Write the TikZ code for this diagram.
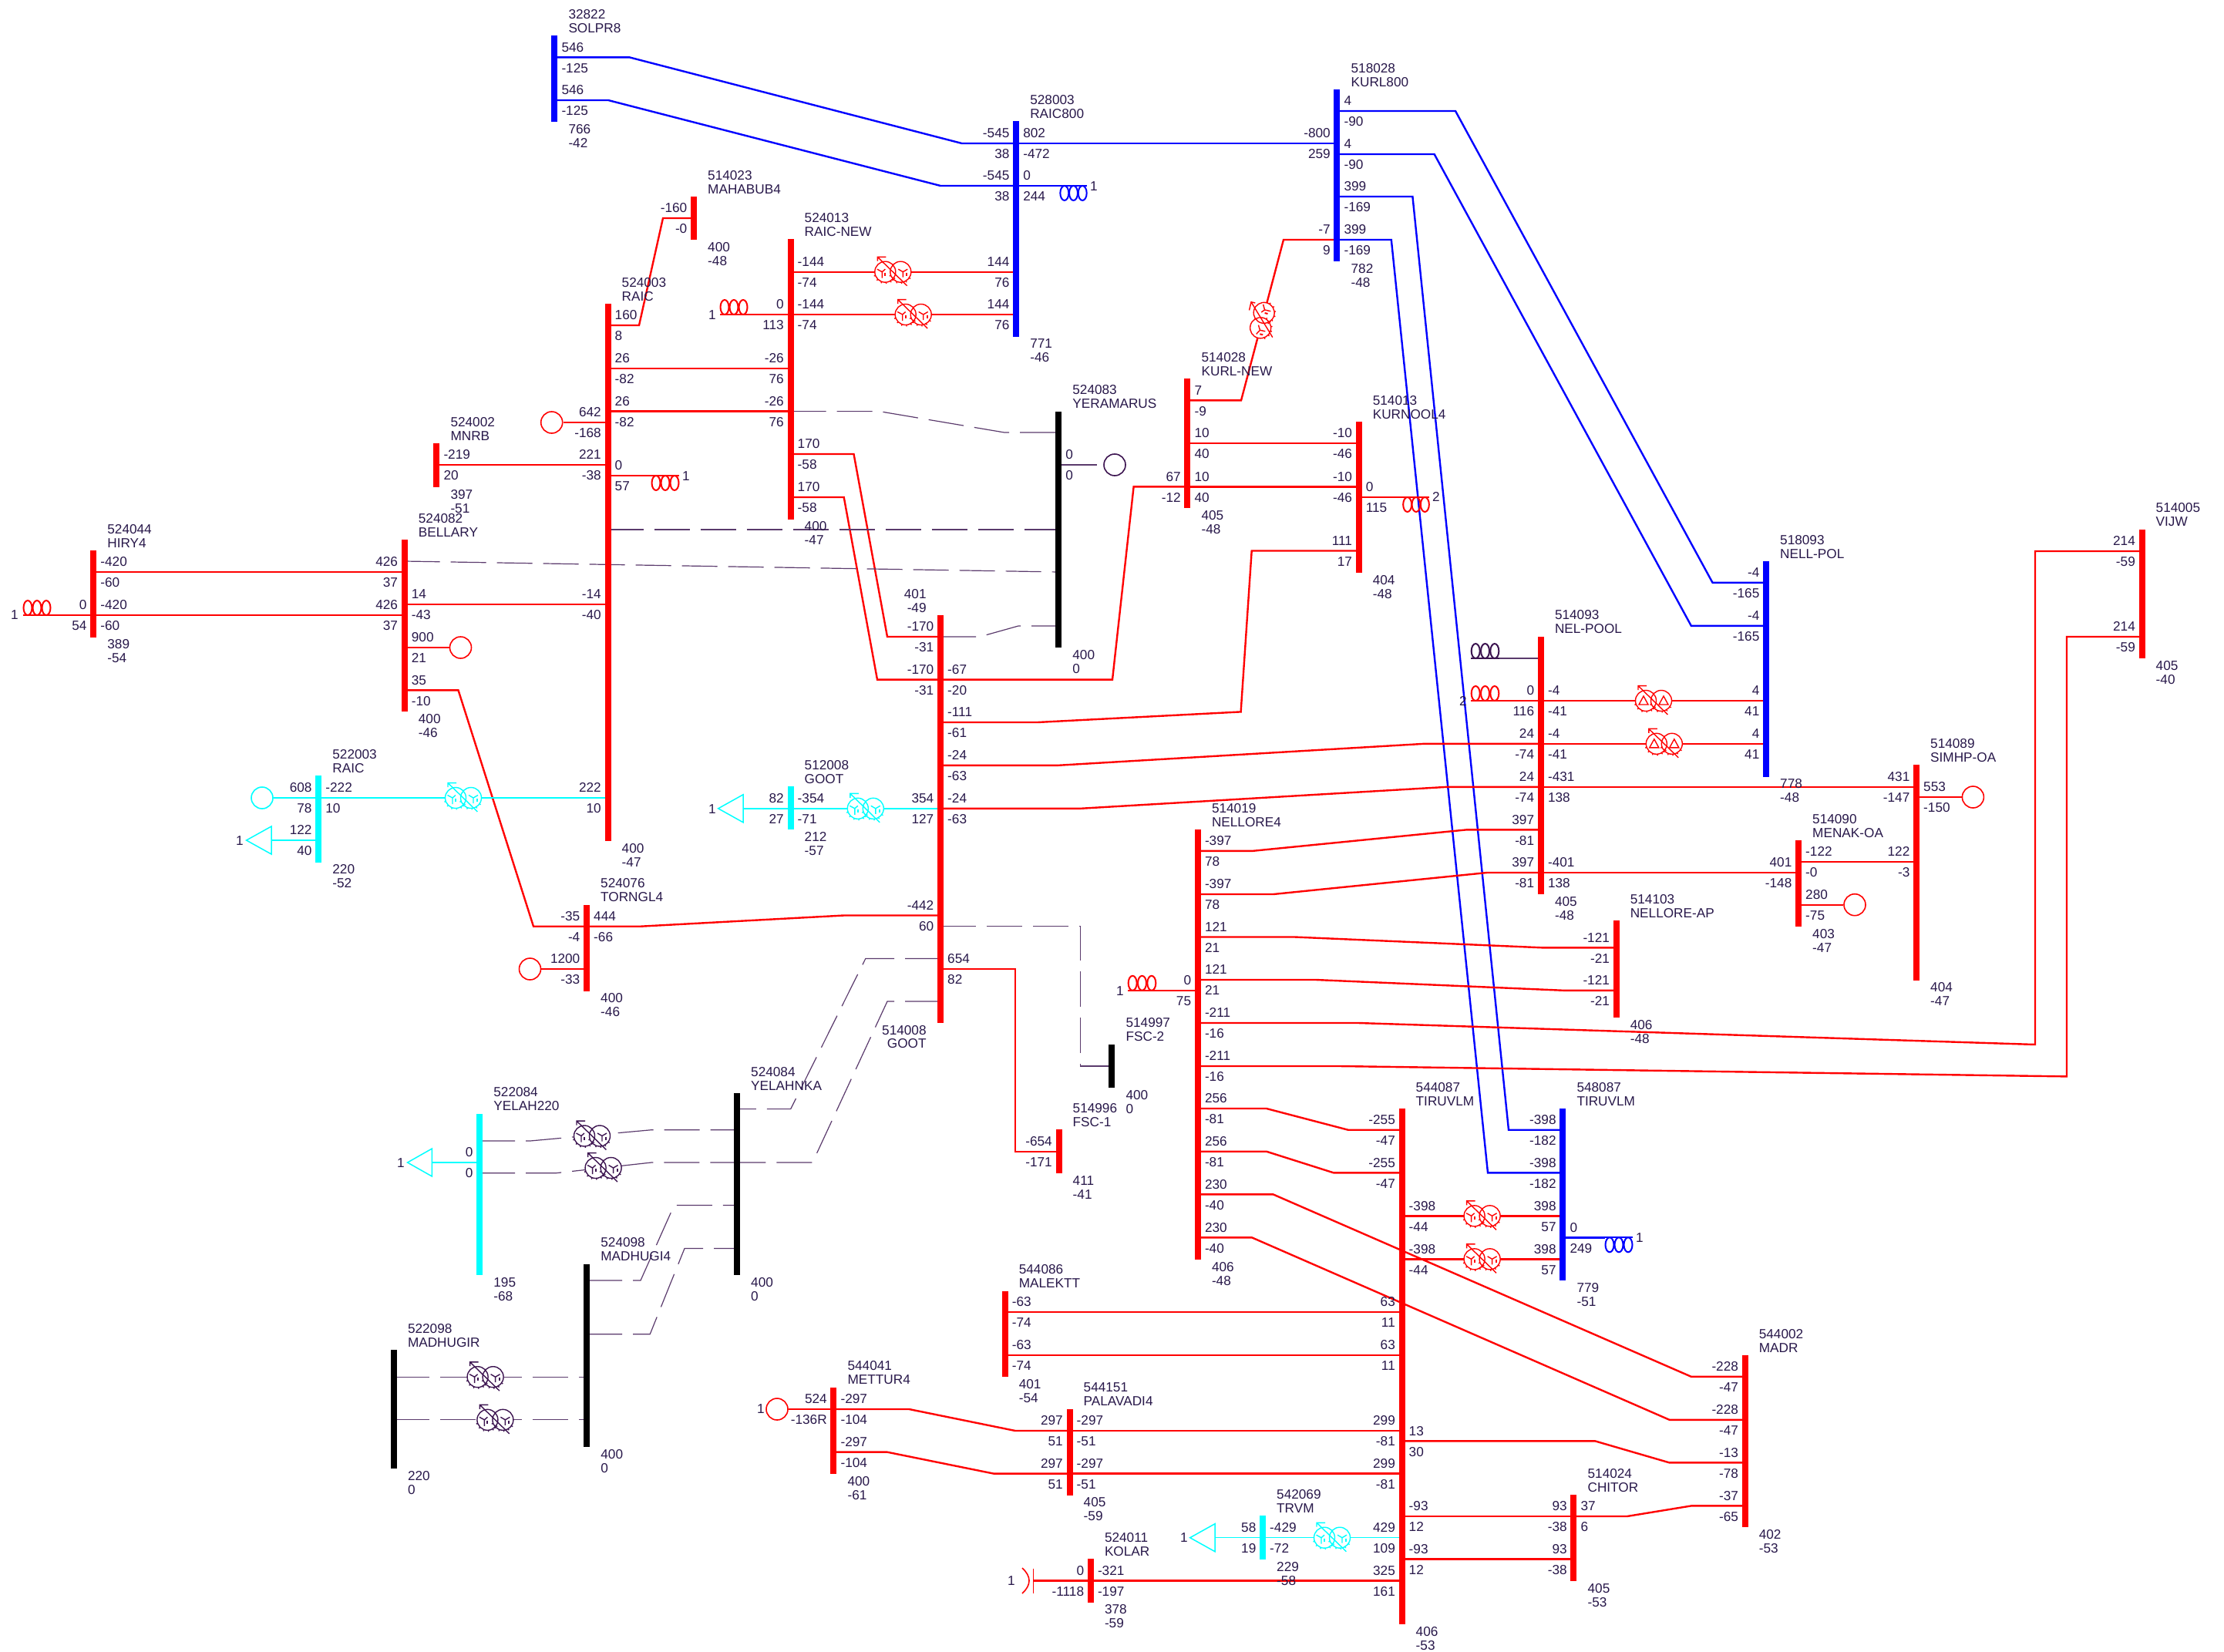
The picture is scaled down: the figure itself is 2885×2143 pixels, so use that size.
\documentclass[tikz,border=0pt]{standalone}
\usepackage{fontspec}
\setmainfont{Liberation Sans}
\definecolor{txt}{HTML}{28184A}
\definecolor{pur}{HTML}{5A3A6C}
\definecolor{purd}{HTML}{3C1450}
\definecolor{cy}{HTML}{00FFFF}
\pgfdeclarelayer{bg}
\pgfsetlayers{bg,main}
\newcounter{tc}
\tikzset{
 lbl/.style={font=\fontsize{17.2pt}{18pt}\selectfont,text=txt,inner sep=0pt,text height=12.4pt,text depth=0pt},
 rl/.style={draw=red,line width=2.4pt,line join=miter},
 bl/.style={draw=blue,line width=2.4pt,line join=miter},
 cl/.style={draw=cy,line width=1.5pt},
 pl/.style={draw=pur,line width=1.2pt,dash pattern=on 46pt off 14pt},
 ps/.style={draw=pur,line width=1.2pt},
 gennode/.style={circle,draw=#1,fill=white,line width=1.6pt,minimum size=28pt,inner sep=0pt},
 busnode/.style={rectangle,fill=#1,draw=none,inner sep=0pt,minimum width=8pt}
}
\newcommand{\tw}[3]{\stepcounter{tc}\node[lbl,anchor=west] (t\arabic{tc}) at (#1,#2) {#3};}
\newcommand{\te}[3]{\stepcounter{tc}\node[lbl,anchor=east] (t\arabic{tc}) at (#1,#2) {#3};}
\newcommand{\fR}[4]{\stepcounter{tc}\node[lbl,anchor=west,xshift=9pt,yshift=13.5pt] (t\arabic{tc}) at (#1 |- 0,#2) {#3};
 \stepcounter{tc}\node[lbl,anchor=west,xshift=9pt,yshift=-13.5pt] (t\arabic{tc}) at (#1 |- 0,#2) {#4};}
\newcommand{\fL}[4]{\stepcounter{tc}\node[lbl,anchor=east,xshift=-8.5pt,yshift=13.5pt] (t\arabic{tc}) at (#1 |- 0,#2) {#3};
 \stepcounter{tc}\node[lbl,anchor=east,xshift=-8.5pt,yshift=-13.5pt] (t\arabic{tc}) at (#1 |- 0,#2) {#4};}
\newcommand{\bare}[5]{\pgfmathsetmacro\mymid{(#3+#4)/2}\pgfmathsetmacro\myhgt{#4-#3}
 \node[busnode=#5,minimum height=\myhgt pt] (#1) at (#2,\mymid) {};}
\newcommand{\bb}[9]{\bare{#1}{#2}{#3}{#4}{#5}
 \pgfmathsetmacro\myx{#2+18}\pgfmathsetmacro\myya{#3-28}\pgfmathsetmacro\myyb{#3-10}\pgfmathsetmacro\myyc{#4+9}\pgfmathsetmacro\myyd{#4+27}
 \tw{\myx}{\myya}{#6}\tw{\myx}{\myyb}{#7}\tw{\myx}{\myyc}{#8}\tw{\myx}{\myyd}{#9}}
\newcommand{\gen}[4]{\node[gennode=#4] (#1) at (#2,#3) {};}
\newcommand{\coil}[6]{\coordinate (#1) at (#2,#4);
 \pgfmathsetmacro\cmid{(#2+#3)/2}\pgfmathsetmacro\cstep{(#3-#2)/3}\pgfmathsetmacro\cy{#4+#6*9.5}
 \draw[#5,line width=2pt] (#2,#4) -- (#3,#4);
 \foreach \k in {-1,0,1}{\pgfmathsetmacro\ck{\cmid+\k*\cstep}\draw[#5,line width=2pt] (\ck,\cy) ellipse [x radius=5.5pt,y radius=9.5pt];}}
\newcommand{\loadtri}[5]{\coordinate (#1) at (#3,#4);
 \pgfmathsetmacro\la{#4-18}\pgfmathsetmacro\lb{#4+18}
 \draw[#5,line width=1.5pt] (#2,#4) -- (#3,\la) -- (#3,\lb) -- cycle;}
\newcommand{\wyeA}[2]{\draw[#2] (#1-10.5,-3.5)--(#1-4,0)--(#1,-3.5) (#1-4,0)--(#1-4,8);
 \draw[#2,line width=2pt] (#1,1)--(#1,5);}
\newcommand{\wyeB}[2]{\draw[#2] (#1-3,-3.5)--(#1+3,0)--(#1+9,-3.5) (#1+3,0)--(#1+3,7);
 \draw[#2,line width=2pt] (#1+8,1)--(#1+8,5);}
\newcommand{\delA}[2]{\draw[#2] (#1-6,5)--(#1+6,5)--(#1,-6)--cycle;}
\newcommand{\xbody}[1]{\fill[white] (-10,0) circle (13.5pt) (10,0) circle (13.5pt);
 \draw[#1] (-10,0) circle (13.5pt) (10,0) circle (13.5pt);
 \foreach \a in {200,225,250,275,300,325}{\draw[#1] (-10,0) ++(\a:13.5pt) -- ++(\a:2pt) (10,0) ++(\a:13.5pt) -- ++(\a:2pt);}
 \draw[#1] (-20,-14)--(-20,-19.4)--(-9,-19.4) (-20,-19.4)--(18.4,18);}
\newcommand{\xfmr}[4]{\begin{scope}[shift={(#1,#2)},#4,line width=1.4pt]
 \xbody{#3}\wyeA{-10}{#3}\wyeB{10}{#3}\end{scope}}
\newcommand{\xfmrD}[3]{\begin{scope}[shift={(#1,#2)},line width=1.4pt]
 \xbody{#3}\delA{-13}{#3}\delA{13}{#3}\end{scope}}
\begin{document}
\begin{tikzpicture}[x=1pt,y=-1pt]
\useasboundingbox (0,0) rectangle (2885,2143);
% ---- buses
\bb{bSOL}{719.3}{46}{158.4}{blue}{32822}{SOLPR8}{766}{-42}
\bb{bMAH}{900}{255}{311.4}{red}{514023}{MAHABUB4}{400}{-48}
\bb{bRC}{788.5}{394}{1091}{red}{524003}{RAIC}{400}{-47}
\bb{bMN}{566.3}{575}{632}{red}{524002}{MNRB}{397}{-51}
\bb{bBE}{524.7}{700}{923.4}{red}{524082}{BELLARY}{400}{-46}
\bb{bHI}{121.2}{714}{826.5}{red}{524044}{HIRY4}{389}{-54}
\bb{bTO}{761}{1173.7}{1285.7}{red}{524076}{TORNGL4}{400}{-46}
\bb{bR2}{413.2}{1006}{1118.6}{cy}{522003}{RAIC}{220}{-52}
\bb{bR8}{1318.1}{157.5}{436.7}{blue}{528003}{RAIC800}{771}{-46}
\bb{bRN}{1025.5}{310.4}{673.7}{red}{524013}{RAIC-NEW}{400}{-47}
\bb{bYE}{1373.2}{533.6}{840.3}{black}{524083}{YERAMARUS}{400}{0}
\bb{bKU}{1540.4}{491.3}{659.4}{red}{514028}{KURL-NEW}{405}{-48}
\bb{bKN}{1762.6}{547}{743}{red}{514013}{KURNOOL4}{404}{-48}
\bb{bK8}{1734.4}{116}{339}{blue}{518028}{KURL800}{782}{-48}
\bb{bNP}{2291}{727.8}{1007.5}{blue}{518093}{NELL-POL}{778}{-48}
\bb{bNE}{1998.8}{825.6}{1160}{red}{514093}{NEL-POOL}{405}{-48}
\bb{bNL}{1553.8}{1075.9}{1633.8}{red}{514019}{NELLORE4}{406}{-48}
\bb{bNA}{2096.6}{1194}{1320}{red}{514103}{NELLORE-AP}{406}{-48}
\bb{bVI}{2778.5}{686.5}{854}{red}{514005}{VIJW}{405}{-40}
\bb{bSI}{2486}{992.3}{1271.5}{red}{514089}{SIMHP-OA}{404}{-47}
\bb{bME}{2333}{1090}{1202}{red}{514090}{MENAK-OA}{403}{-47}
\bb{bT8}{2027.3}{1438}{1661}{blue}{548087}{TIRUVLM}{779}{-51}
\bb{bTI}{1818.5}{1438}{2106.8}{red}{544087}{TIRUVLM}{406}{-53}
\bb{bMA}{1303.6}{1674.6}{1786.2}{red}{544086}{MALEKTT}{401}{-54}
\bb{bPA}{1387.5}{1827.6}{1939.6}{red}{544151}{PALAVADI4}{405}{-59}
\bb{bMT}{1081.4}{1799.5}{1912}{red}{544041}{METTUR4}{400}{-61}
\bb{bKO}{1414.8}{2022}{2078.7}{red}{524011}{KOLAR}{378}{-59}
\bb{bTR}{1638}{1966}{2023}{cy}{542069}{TRVM}{229}{-58}
\bb{bCH}{2041.4}{1939}{2051}{red}{514024}{CHITOR}{405}{-53}
\bb{bMD}{2263.6}{1758}{1981.4}{red}{544002}{MADR}{402}{-53}
\bb{bF1}{1373.5}{1465}{1522}{red}{514996}{FSC-1}{411}{-41}
\bb{bF2}{1442.4}{1354.6}{1411}{black}{514997}{FSC-2}{400}{0}
\bb{bG2}{1025.5}{1019.9}{1076.3}{cy}{512008}{GOOT}{212}{-57}
\bb{bYL}{956}{1418}{1654}{black}{524084}{YELAHNKA}{400}{0}
\bb{bY2}{622.2}{1444.6}{1654}{cy}{522084}{YELAH220}{195}{-68}
\bb{bMG}{761.2}{1639.7}{1877}{black}{524098}{MADHUGI4}{400}{0}
\bb{bM2}{510.8}{1750.9}{1905}{black}{522098}{MADHUGIR}{220}{0}
\bare{bGO}{1220}{798}{1327}{red}
\te{1201.8}{770.5}{401}\te{1201.8}{788.4}{-49}
\te{1201.8}{1335.8}{514008}\te{1201.8}{1353.7}{GOOT}
% ---- generators
\gen{gRC}{715.7}{548}{red}
\gen{gBE}{597.5}{840}{red}
\gen{gTO}{687.5}{1257}{red}
\gen{gR2}{340}{1035}{cy}
\gen{gYE}{1446}{603}{purd}
\gen{gSI}{2559.4}{1034}{red}
\gen{gME}{2406}{1173.7}{red}
\gen{gMT}{1008}{1828}{red}
% ---- reactors
\coil{cHI}{66}{30}{798}{red}{-1}\tw{14}{797}{1}
\coil{cRC}{845}{881}{617}{red}{1}\tw{885}{617}{1}
\coil{cRN}{970}{934}{408}{red}{-1}\tw{919}{408}{1}
\coil{cR8}{1375}{1410}{241}{blue}{1}\tw{1414}{241}{1}
\coil{cKN}{1820}{1854}{645}{red}{1}\tw{1858}{644}{2}
\coil{cNE}{1945}{1908}{854}{purd}{-1}
\coil{cNF}{1945}{1908}{909}{red}{-1}\tw{1893}{909}{2}
\coil{cNL}{1500}{1463}{1284.8}{red}{-1}\tw{1448}{1284.8}{1}
\coil{cT8}{2082}{2118}{1605.3}{blue}{1}\tw{2122}{1605.3}{1}
% ---- loads
\loadtri{lR2}{319.6}{352}{1090}{cy}\tw{306}{1090}{1}
\loadtri{lG2}{931.7}{964}{1048.8}{cy}\tw{919}{1048.8}{1}
\loadtri{lY2}{528.6}{560.4}{1508}{cy}\tw{515}{1508}{1}
\loadtri{lTR}{1543.7}{1576}{1994.7}{cy}\tw{1531}{1994.7}{1}
% ---- capacitor
\coordinate (capK) at (1340.4,2050.3);
\draw[red,line width=1.6pt] (1340.4,2034.7) -- (1340.4,2067);
\draw[red,line width=1.6pt] (1326,2034) .. controls (1338,2045) and (1338,2056) .. (1326,2067);
\tw{1307}{2050.3}{1}
\coordinate (yeEnd) at (1423,603);
% ---- transformers
\xfmr{1158.3}{352.7}{red}{}
\xfmr{1184.7}{408}{red}{}
\xfmr{601}{1035}{cy}{}
\xfmr{1122.8}{1048.8}{cy}{}
\xfmr{1637.4}{415.6}{red}{rotate=-13,cm={0,-1,-1,0,(0,0)}}
\xfmrD{2145}{909}{red}
\xfmrD{2158.8}{964.8}{red}
\xfmr{1922.6}{1577.3}{red}{}
\xfmr{1922.6}{1633.3}{red}{}
\xfmr{1728}{1994.7}{cy}{}
\xfmr{768}{1473.5}{purd}{}
\xfmr{782.6}{1515}{purd}{}
\xfmr{629.6}{1786.2}{purd}{}
\xfmr{642.4}{1841.8}{purd}{}
% ---- connectors
\begin{pgfonlayer}{bg}
\draw[bl] (bSOL |- 0,74.4) -- (816.7,74.4) -- (1247.7,186) -- (bR8 |- 0,186);
\draw[bl] (bR8 |- 0,186) -- (bK8 |- 0,186);
\draw[bl] (bSOL |- 0,130) -- (789,130) -- (1220,241) -- (bR8 |- 0,241);
\draw[bl] (bR8 |- 0,241) -- (cR8);
\draw[bl] (bK8 |- 0,144) -- (1888,144) -- (2221.5,755.8) -- (bNP |- 0,755.8);
\draw[bl] (bK8 |- 0,200) -- (1860.6,200) -- (2193.8,811.8) -- (bNP |- 0,811.8);
\draw[bl] (bK8 |- 0,255) -- (1832.4,255) -- (1957,1465.7) -- (bT8 |- 0,1465.7);
\draw[bl] (bK8 |- 0,311) -- (1804.8,311) -- (1930,1521.3) -- (bT8 |- 0,1521.3);
\draw[bl] (bT8 |- 0,1605.3) -- (cT8);
\draw[rl] (bMAH |- 0,283) -- (860,283) -- (829,422) -- (bRC |- 0,422);
\draw[rl] (bMN |- 0,603) -- (bRC |- 0,603);
\draw[rl] (bRC |- gRC) -- (gRC);
\draw[rl] (bRC |- 0,617) -- (cRC);
\draw[rl] (bRC |- 0,478) -- (bRN |- 0,478);
\draw[rl] (bRC |- 0,533.6) -- (bRN |- 0,533.6);
\draw[rl] (bHI |- 0,742) -- (bBE |- 0,742);
\draw[rl] (bHI |- 0,798) -- (bBE |- 0,798);
\draw[rl] (cHI) -- (bHI |- 0,798);
\draw[rl] (bBE |- 0,784) -- (bRC |- 0,784);
\draw[rl] (bBE |- gBE) -- (gBE);
\draw[rl] (bBE |- 0,895.4) -- (594.5,895.4) -- (692,1201.7) -- (bTO |- 0,1201.7);
\draw[rl] (bTO |- 0,1201.7) -- (831.4,1201.7) -- (1094.7,1187.5) -- (bGO |- 0,1187.5);
\draw[rl] (bTO |- gTO) -- (gTO);
\draw[cl] (bR2 |- gR2) -- (gR2);
\draw[cl] (bR2 |- 0,1035) -- (bRC |- 0,1035);
\draw[cl] (lR2) -- (bR2 |- lR2);
\draw[rl] (bRN |- 0,353) -- (bR8 |- 0,353);
\draw[rl] (cRN) -- (bRN |- 0,408);
\draw[rl] (bRN |- 0,408) -- (bR8 |- 0,408);
\draw[rl] (bRN |- 0,589) -- (1107.5,589) -- (1151,826) -- (bGO |- 0,826);
\draw[rl] (bRN |- 0,645) -- (1094.7,645) -- (1138,881.6) -- (bGO |- 0,881.6);
\draw[rl] (bGO |- 0,881.6) -- (1443,881.6) -- (1470.6,631.4) -- (bKU |- 0,631.4);
\draw[rl] (bKU |- 0,631.4) -- (bKN |- 0,631.4);
\draw[rl] (bKU |- 0,575) -- (bKN |- 0,575);
\draw[rl] (bKU |- 0,519.4) -- (1610,519.4) -- (1665,311) -- (bK8 |- 0,311);
\draw[rl] (bKN |- 0,645) -- (cKN);
\draw[rl] (bKN |- 0,714.5) -- (1623.7,714.5) -- (1609.6,923.4) -- (1345.7,937) -- (bGO |- 0,937);
\draw[rl] (bGO |- 0,992.8) -- (1373,992.8) -- (1847.7,964.8) -- (bNE |- 0,964.8);
\draw[rl] (bNE |- 0,964.8) -- (bNP |- 0,964.8);
\draw[rl] (bGO |- 0,1048.8) -- (1402,1048.8) -- (1877,1020.8) -- (bNE |- 0,1020.8);
\draw[rl] (bNE |- 0,1020.8) -- (bSI |- 0,1020.8);
\draw[rl] (cNF) -- (bNE |- 0,909);
\draw[rl] (bNE |- 0,909) -- (bNP |- 0,909);
\draw[ps] (cNE) -- (bNE |- 0,854);
\draw[cl] (lG2) -- (bG2 |- lG2);
\draw[cl] (bG2 |- 0,1048.8) -- (bGO |- 0,1048.8);
\draw[rl] (bNL |- 0,1103.9) -- (1624.4,1103.9) -- (1903,1076.3) -- (bNE |- 0,1076.3);
\draw[rl] (bNL |- 0,1160) -- (1651.8,1160) -- (1929,1132) -- (bNE |- 0,1132);
\draw[rl] (bNE |- 0,1132) -- (bME |- 0,1132);
\draw[rl] (bME |- 0,1118) -- (bSI |- 0,1118);
\draw[rl] (bME |- gME) -- (gME);
\draw[rl] (bSI |- gSI) -- (gSI);
\draw[rl] (bNL |- 0,1215.5) -- (1679.3,1215.5) -- (2000,1229.3) -- (bNA |- 0,1229.3);
\draw[rl] (bNL |- 0,1271) -- (1706.9,1271) -- (2028,1284.8) -- (bNA |- 0,1284.8);
\draw[rl] (cNL) -- (bNL |- 0,1284.8);
\draw[rl] (bNL |- 0,1327) -- (1762,1327) -- (2640,1355) -- (2640,715) -- (bVI |- 0,715);
\draw[rl] (bNL |- 0,1383) -- (1737.7,1383) -- (2681,1396.4) -- (2681,826) -- (bVI |- 0,826);
\draw[rl] (bNL |- 0,1438) -- (1642.8,1438) -- (1748.7,1465.7) -- (bTI |- 0,1465.7);
\draw[rl] (bNL |- 0,1493.7) -- (1642.8,1493.7) -- (1729.8,1521.3) -- (bTI |- 0,1521.3);
\draw[rl] (bNL |- 0,1549.3) -- (1651.4,1549.3) -- (2193.8,1785.8) -- (bMD |- 0,1785.8);
\draw[rl] (bNL |- 0,1605.3) -- (1623.9,1605.3) -- (2165.6,1841.8) -- (bMD |- 0,1841.8);
\draw[rl] (bTI |- 0,1577.3) -- (bT8 |- 0,1577.3);
\draw[rl] (bTI |- 0,1633.3) -- (bT8 |- 0,1633.3);
\draw[rl] (bMA |- 0,1702.2) -- (bTI |- 0,1702.2);
\draw[rl] (bMA |- 0,1758.2) -- (bTI |- 0,1758.2);
\draw[rl] (bMT |- gMT) -- (gMT);
\draw[rl] (bMT |- 0,1828) -- (1179.3,1828) -- (1317,1856) -- (bPA |- 0,1856);
\draw[rl] (bPA |- 0,1856) -- (bTI |- 0,1856);
\draw[rl] (bMT |- 0,1883.6) -- (1150.6,1883.6) -- (1289,1911.6) -- (bPA |- 0,1911.6);
\draw[rl] (bPA |- 0,1911.6) -- (bTI |- 0,1911.6);
\draw[rl] (bTI |- 0,1869.3) -- (2069,1869.3) -- (2165.6,1897.4) -- (bMD |- 0,1897.4);
\draw[rl] (bTI |- 0,1967) -- (bCH |- 0,1967);
\draw[rl] (bCH |- 0,1967) -- (2110.5,1967) -- (2193.8,1953.4) -- (bMD |- 0,1953.4);
\draw[rl] (bTI |- 0,2022.3) -- (bCH |- 0,2022.3);
\draw[cl] (bTR |- 0,1994.7) -- (bTI |- 0,1994.7);
\draw[cl] (lTR) -- (bTR |- lTR);
\draw[rl] (capK) -- (bKO |- capK);
\draw[rl] (bKO |- capK) -- (bTI |- capK);
\draw[rl] (bGO |- 0,1257) -- (1317,1257) -- (1317,1494) -- (bF1 |- 0,1494);
% dashed, out of service
\draw[pl] (bBE |- 0,728) -- (bYE |- 0,742);
\draw[pl] (bRC |- 0,687) -- (bYE |- 0,687);
\draw[pl] (bRN |- 0,533.6) -- (1140.6,533.6) -- (1302.8,561) -- (bYE |- 0,561);
\draw[pl] (bGO |- 0,826) -- (1271,826) -- (1321,812) -- (bYE |- 0,812);
\draw[ps] (bYE |- 0,603) -- (yeEnd);
\draw[pl] (bGO |- 0,1201.7) -- (1401.4,1201.7) -- (1401.4,1383) -- (bF2 |- 0,1383);
\draw[pl] (bGO |- 0,1243.5) -- (1122.8,1243.5) -- (1025.7,1438.6) -- (bYL |- 0,1438.6);
\draw[pl] (bGO |- 0,1299) -- (1151,1299) -- (1054,1508) -- (bYL |- 0,1508);
\draw[pl] (bY2 |- 0,1480) -- (687.7,1480) -- (845,1465.7) -- (bYL |- 0,1465.7);
\draw[pl] (bY2 |- 0,1521.7) -- (721.4,1521.7) -- (845,1508) -- (bYL |- 0,1508);
\draw[cl] (lY2) -- (bY2 |- lY2);
\draw[pl] (bMG |- 0,1661) -- (831,1661) -- (874.5,1563.5) -- (bYL |- 0,1563.5);
\draw[pl] (bMG |- 0,1730.7) -- (843.2,1730.7) -- (888,1619.5) -- (bYL |- 0,1619.5);
\draw[pl] (bM2 |- 0,1786.2) -- (bMG |- 0,1786.2);
\draw[pl] (bM2 |- 0,1841.8) -- (bMG |- 0,1841.8);
\end{pgfonlayer}
% ---- flow labels
\fR{bSOL}{74.4}{546}{-125}\fR{bSOL}{130}{546}{-125}
\fL{bMAH}{283}{-160}{-0}
\fR{bRC}{422}{160}{8}\fR{bRC}{478}{26}{-82}\fR{bRC}{533.6}{26}{-82}\fR{bRC}{617}{0}{57}
\fL{bRC}{548}{642}{-168}\fL{bRC}{603}{221}{-38}\fL{bRC}{784}{-14}{-40}\fL{bRC}{1035}{222}{10}
\fR{bMN}{603}{-219}{20}
\fR{bHI}{742}{-420}{-60}\fR{bHI}{798}{-420}{-60}\fL{bHI}{798}{0}{54}
\fL{bBE}{742}{426}{37}\fL{bBE}{798}{426}{37}
\fR{bBE}{784}{14}{-43}\fR{bBE}{840}{900}{21}\fR{bBE}{895.4}{35}{-10}
\fL{bTO}{1201.7}{-35}{-4}\fR{bTO}{1201.7}{444}{-66}\fL{bTO}{1257}{1200}{-33}
\fL{bR2}{1035}{608}{78}\fR{bR2}{1035}{-222}{10}\fL{bR2}{1090}{122}{40}
\fL{bR8}{186}{-545}{38}\fR{bR8}{186}{802}{-472}\fL{bR8}{241}{-545}{38}\fR{bR8}{241}{0}{244}
\fL{bR8}{353}{144}{76}\fL{bR8}{408}{144}{76}
\fR{bRN}{353}{-144}{-74}\fR{bRN}{408}{-144}{-74}\fL{bRN}{408}{0}{113}
\fL{bRN}{478}{-26}{76}\fL{bRN}{533.6}{-26}{76}\fR{bRN}{589}{170}{-58}\fR{bRN}{645}{170}{-58}
\fR{bYE}{603}{0}{0}
\fL{bK8}{186}{-800}{259}\fL{bK8}{311}{-7}{9}
\fR{bK8}{144}{4}{-90}\fR{bK8}{200}{4}{-90}\fR{bK8}{255}{399}{-169}\fR{bK8}{311}{399}{-169}
\fR{bKU}{519.4}{7}{-9}\fR{bKU}{575}{10}{40}\fR{bKU}{631.4}{10}{40}\fL{bKU}{631.4}{67}{-12}
\fL{bKN}{575}{-10}{-46}\fL{bKN}{631.4}{-10}{-46}\fR{bKN}{645}{0}{115}\fL{bKN}{714.5}{111}{17}
\fL{bGO}{826}{-170}{-31}\fL{bGO}{881.6}{-170}{-31}\fR{bGO}{881.6}{-67}{-20}
\fR{bGO}{937}{-111}{-61}\fR{bGO}{992.8}{-24}{-63}\fR{bGO}{1048.8}{-24}{-63}\fL{bGO}{1048.8}{354}{127}
\fL{bGO}{1187.5}{-442}{60}\fR{bGO}{1257}{654}{82}
\fL{bG2}{1048.8}{82}{27}\fR{bG2}{1048.8}{-354}{-71}
\fL{bNP}{755.8}{-4}{-165}\fL{bNP}{811.8}{-4}{-165}\fL{bNP}{909}{4}{41}\fL{bNP}{964.8}{4}{41}
\fL{bNE}{909}{0}{116}\fR{bNE}{909}{-4}{-41}\fL{bNE}{964.8}{24}{-74}\fR{bNE}{964.8}{-4}{-41}
\fL{bNE}{1020.8}{24}{-74}\fR{bNE}{1020.8}{-431}{138}\fL{bNE}{1076.3}{397}{-81}
\fL{bNE}{1132}{397}{-81}\fR{bNE}{1132}{-401}{138}
\fL{bSI}{1020.8}{431}{-147}\fR{bSI}{1034}{553}{-150}\fL{bSI}{1118}{122}{-3}
\fR{bME}{1118}{-122}{-0}\fL{bME}{1132}{401}{-148}\fR{bME}{1173.7}{280}{-75}
\fL{bVI}{715}{214}{-59}\fL{bVI}{826}{214}{-59}
\fL{bNA}{1229.3}{-121}{-21}\fL{bNA}{1284.8}{-121}{-21}
\fR{bNL}{1103.9}{-397}{78}\fR{bNL}{1160}{-397}{78}\fR{bNL}{1215.5}{121}{21}\fR{bNL}{1271}{121}{21}
\fL{bNL}{1284.8}{0}{75}\fR{bNL}{1327}{-211}{-16}\fR{bNL}{1383}{-211}{-16}
\fR{bNL}{1438}{256}{-81}\fR{bNL}{1493.7}{256}{-81}\fR{bNL}{1549.3}{230}{-40}\fR{bNL}{1605.3}{230}{-40}
\fL{bF1}{1494}{-654}{-171}
\fL{bTI}{1465.7}{-255}{-47}\fL{bTI}{1521.3}{-255}{-47}\fR{bTI}{1577.3}{-398}{-44}\fR{bTI}{1633.3}{-398}{-44}
\fL{bTI}{1702.2}{63}{11}\fL{bTI}{1758.2}{63}{11}\fL{bTI}{1856}{299}{-81}\fL{bTI}{1911.6}{299}{-81}
\fR{bTI}{1869.3}{13}{30}\fR{bTI}{1967}{-93}{12}\fL{bTI}{1994.7}{429}{109}\fR{bTI}{2022.3}{-93}{12}\fL{bTI}{2050.3}{325}{161}
\fL{bT8}{1465.7}{-398}{-182}\fL{bT8}{1521.3}{-398}{-182}\fL{bT8}{1577.3}{398}{57}\fL{bT8}{1633.3}{398}{57}\fR{bT8}{1605.3}{0}{249}
\fR{bMA}{1702.2}{-63}{-74}\fR{bMA}{1758.2}{-63}{-74}
\fL{bPA}{1856}{297}{51}\fR{bPA}{1856}{-297}{-51}\fL{bPA}{1911.6}{297}{51}\fR{bPA}{1911.6}{-297}{-51}
\fL{bMT}{1828}{524}{-136R}\fR{bMT}{1828}{-297}{-104}\fR{bMT}{1883.6}{-297}{-104}
\tw{982}{1827}{1}
\fL{bMD}{1785.8}{-228}{-47}\fL{bMD}{1841.8}{-228}{-47}\fL{bMD}{1897.4}{-13}{-78}\fL{bMD}{1953.4}{-37}{-65}
\fL{bCH}{1967}{93}{-38}\fR{bCH}{1967}{37}{6}\fL{bCH}{2022.3}{93}{-38}
\fL{bTR}{1994.7}{58}{19}\fR{bTR}{1994.7}{-429}{-72}
\fL{bKO}{2050.3}{0}{-1118}\fR{bKO}{2050.3}{-321}{-197}
\fL{bY2}{1508}{0}{0}
\end{tikzpicture}
\end{document}
